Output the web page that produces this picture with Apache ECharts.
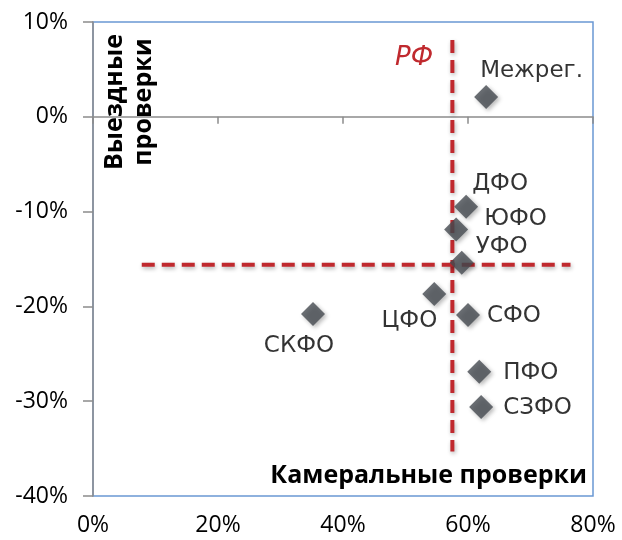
<!DOCTYPE html>
<html>
<head>
<meta charset="utf-8">
<script src="https://cdn.jsdelivr.net/npm/echarts@6/dist/echarts.min.js"></script>
<style>
html,body{margin:0;padding:0;background:#fff;}
#chart{width:622px;height:540px;}
</style>
</head>
<body>
<div id="chart"></div>
<script>
// Data (percent)
var regions = ['Межрег.', 'ДФО', 'ЮФО', 'УФО', 'ЦФО', 'СФО', 'СКФО', 'ПФО', 'СЗФО'];
var cameralChecks = [62.9, 59.7, 58.1, 59.0, 54.6, 60.0, 35.2, 61.8, 62.1];
var fieldChecks = [2.1, -9.5, -11.9, -15.4, -18.7, -20.9, -20.8, -26.9, -30.6];
var rfCameral = 57.5;
var rfField = -15.6;
var rfVerticalSpan = [8.1, -35.3];
var rfHorizontalSpan = [7.8, 76.4];
var xTicks = [0, 20, 40, 60, 80];
var yTicks = [-40, -30, -20, -10, 0, 10];

// Label placement (layout only)
var labelLayout = {
  'Межрег.': {align: 'left', offset: [-6, -26]},
  'ДФО': {align: 'left', offset: [6, -23]},
  'ЮФО': {align: 'left', offset: [28, -11]},
  'УФО': {align: 'left', offset: [14, -16]},
  'СФО': {align: 'left', offset: [19, 1]},
  'ЦФО': {align: 'right', offset: [3, 27]},
  'СКФО': {align: 'center', offset: [-14, 32]},
  'ПФО': {align: 'left', offset: [24, 1]},
  'СЗФО': {align: 'left', offset: [22, 1]}
};

var FONT = '"DejaVu Sans", "Noto Sans", sans-serif';
var AXIS_FONT = '"Open Sans", "Noto Sans", sans-serif';
var BOLD_FONT = '"Open Sans", "Noto Sans", sans-serif';
var RED = '#c0292e';

var pointData = regions.map(function (name, i) {
  var l = labelLayout[name];
  return {
    name: name,
    value: [cameralChecks[i], fieldChecks[i]],
    label: {align: l.align, offset: l.offset}
  };
});

var chart = echarts.init(document.getElementById('chart'), null, {renderer: 'canvas'});
chart.setOption({
  animation: false,
  textStyle: {fontFamily: FONT},
  grid: {left: 93, right: 29, top: 22, bottom: 44, show: true, borderColor: '#6a98d4', borderWidth: 1.5, backgroundColor: 'transparent'},
  xAxis: [{
    type: 'value', min: xTicks[0], max: xTicks[xTicks.length - 1], interval: 20,
    position: 'bottom',
    axisLine: {show: true, onZero: true, lineStyle: {color: '#8c8c8c', width: 1.5}},
    axisTick: {show: true, length: 7, lineStyle: {color: '#8c8c8c', width: 1.5}},
    axisLabel: {show: false},
    splitLine: {show: false}
  }, {
    type: 'value', min: xTicks[0], max: xTicks[xTicks.length - 1], interval: 20,
    position: 'bottom',
    axisLine: {show: false, onZero: false},
    axisTick: {show: false},
    axisLabel: {show: true, formatter: '{value}%', margin: 18, fontSize: 23, color: '#000', fontFamily: AXIS_FONT},
    splitLine: {show: false}
  }],
  yAxis: {
    type: 'value', min: yTicks[0], max: yTicks[yTicks.length - 1], interval: 10,
    axisLine: {show: true, onZero: false, lineStyle: {color: '#8c8c8c', width: 1.5}},
    axisTick: {show: true, length: 10, lineStyle: {color: '#8c8c8c', width: 1.5}},
    axisLabel: {formatter: '{value}%', margin: 25, fontSize: 23, color: '#000', fontFamily: AXIS_FONT},
    splitLine: {show: false}
  },
  series: [{
    type: 'line',
    xAxisIndex: 0,
    data: [[rfCameral, rfVerticalSpan[0]], [rfCameral, rfVerticalSpan[1]]],
    symbol: 'none',
    silent: true,
    lineStyle: {color: RED, width: 4, type: [13, 7], shadowColor: 'rgba(0,0,0,0.3)', shadowBlur: 4, shadowOffsetX: 1, shadowOffsetY: 2},
    z: 3
  }, {
    type: 'line',
    xAxisIndex: 0,
    data: [[rfHorizontalSpan[0], rfField], [rfHorizontalSpan[1], rfField]],
    symbol: 'none',
    silent: true,
    lineStyle: {color: RED, width: 4, type: [13, 7], shadowColor: 'rgba(0,0,0,0.3)', shadowBlur: 4, shadowOffsetX: 1, shadowOffsetY: 2},
    z: 3
  }, {
    type: 'scatter',
    xAxisIndex: 0,
    data: pointData,
    symbol: 'diamond',
    symbolSize: 24,
    itemStyle: {color: '#464b51', shadowColor: 'rgba(0,0,0,0.35)', shadowBlur: 4, shadowOffsetX: 2, shadowOffsetY: 2},
    label: {
      show: true, position: 'inside', verticalAlign: 'middle',
      formatter: '{b}', fontSize: 23, color: '#000', fontFamily: FONT
    },
    emphasis: {disabled: true},
    z: 5
  }],
  graphic: [{
    type: 'text',
    x: 129, y: 102,
    rotation: Math.PI / 2,
    style: {text: 'Выездные\nпроверки', font: 'bold 25px ' + BOLD_FONT, fill: '#000', align: 'center', verticalAlign: 'middle', lineHeight: 29},
    z: 10
  }, {
    type: 'text',
    x: 587, y: 476,
    style: {text: 'Камеральные проверки', font: 'bold 25px ' + BOLD_FONT, fill: '#000', align: 'right', verticalAlign: 'middle'},
    z: 10
  }, {
    type: 'text',
    x: 395, y: 58,
    style: {text: 'РФ', font: 'italic 26px ' + FONT, fill: RED, align: 'left', verticalAlign: 'middle'},
    z: 10
  }]
});
</script>
</body>
</html>
